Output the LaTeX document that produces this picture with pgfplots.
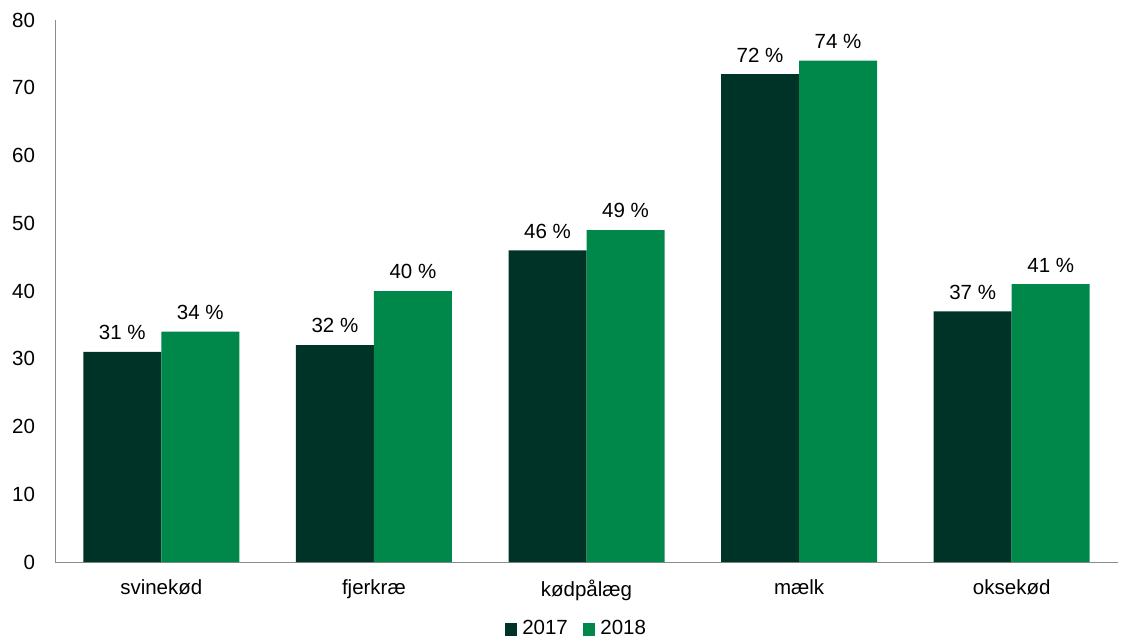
\documentclass[border=0pt]{standalone}
\usepackage{pgfplots}
\pgfplotsset{compat=1.18}
\usepackage{fontspec}
\setmainfont{Liberation Sans}
\definecolor{dk}{HTML}{003328}
\definecolor{gr}{HTML}{00884B}
\begin{document}
\fontsize{20.5}{24}\selectfont
\begin{tikzpicture}
\begin{axis}[
  name=a,
  scale only axis, width=1063pt, height=542pt,
  ybar=0pt, bar width=78pt,
  xmin=-0.5, xmax=4.5, ymin=0, ymax=80,
  ytick={0,10,...,80}, xtick=data,
  xticklabels={svinekød, fjerkræ, kødpålæg, mælk, oksekød},
  axis x line*=bottom, axis y line*=left,
  axis line style={draw=black!45, line width=1pt, -},
  major tick length=0pt,
  /pgf/number format/assume math mode=true,
  tick label style={font=\fontsize{20.5}{24}\selectfont},
  yticklabel style={xshift=-13pt},
  xticklabel style={yshift=-11pt},
  nodes near coords={\pgfmathprintnumber{\pgfplotspointmeta}~\%},
  nodes near coords style={font=\fontsize{20.5}{24}\selectfont, anchor=south, yshift=5pt, text=black},
  legend style={at={(0.49,-0.106)}, anchor=north, draw=none, legend columns=2,
    inner sep=0pt, outer sep=0pt,
    font=\fontsize{20.5}{24}\selectfont,
    nodes={inner sep=1pt},
    /tikz/every even column/.append style={column sep=14pt},
    /tikz/every odd column/.append style={column sep=4pt}},
  legend image code/.code={\fill[#1] (0pt,-6.5pt) rectangle (12.5pt,6pt);},
]
\addplot[fill=dk, draw=none] coordinates {(0,31) (1,32) (2,46) (3,72) (4,37)};
\addplot[fill=gr, draw=none] coordinates {(0,34) (1,40) (2,49) (3,74) (4,41)};
\legend{2017, 2018}
\end{axis}
\path (a.south west) ++(-55pt,-77pt);
\path (a.north east) ++(5pt,20pt);
\end{tikzpicture}
\end{document}
